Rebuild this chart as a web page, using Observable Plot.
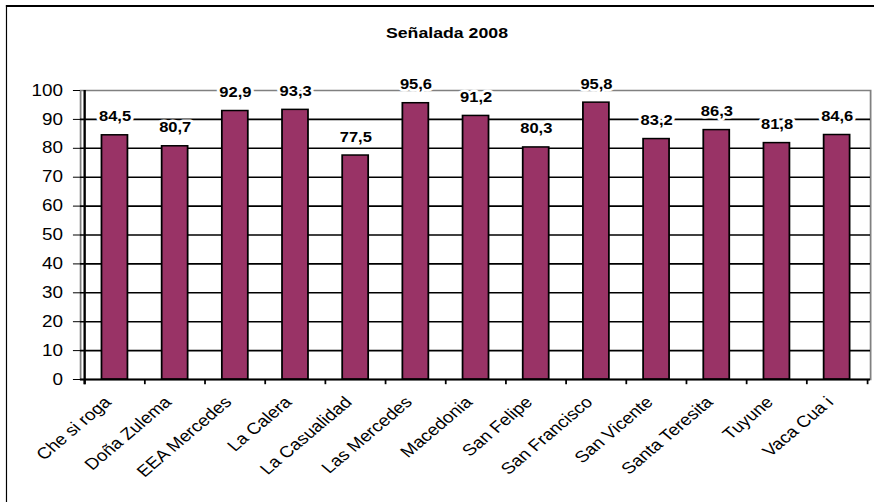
<!DOCTYPE html>
<html><head><meta charset="utf-8">
<script src="https://cdn.jsdelivr.net/npm/d3@7"></script>
<script src="https://cdn.jsdelivr.net/npm/@observablehq/plot@0.6"></script>
<style>
html,body{margin:0;padding:0;background:#fff;overflow:hidden;width:874px;height:502px;}
#stage{position:absolute;left:0;top:0;width:741px;height:502px;transform:scaleX(1.18);transform-origin:0 0;font-family:"Liberation Sans",Arial,sans-serif;}
#border{position:absolute;left:5px;top:5px;width:800px;height:600px;border-top:2px solid #000;border-left:1.7px solid #000;}
#title{position:absolute;left:0;width:757.6px;top:25px;text-align:center;font-weight:bold;font-size:15px;line-height:15px;color:#000;}
#chart{position:absolute;left:0;top:50px;}
</style></head>
<body><div id="stage"><div id="border"></div><div id="title">Señalada 2008</div><div id="chart"></div></div>
<script>
const categories = ["Che si roga", "Doña Zulema", "EEA Mercedes", "La Calera", "La Casualidad", "Las Mercedes", "Macedonia", "San Felipe", "San Francisco", "San Vicente", "Santa Teresita", "Tuyune", "Vaca Cua i"];
const values = [84.5, 80.7, 92.9, 93.3, 77.5, 95.6, 91.2, 80.3, 95.8, 83.2, 86.3, 81.8, 84.6];
const yTicks = [0, 10, 20, 30, 40, 50, 60, 70, 80, 90, 100];

const data = categories.map((name, i) => ({name, value: values[i]}));
const W = 741, H = 452, mL = 67.8, mR = 3.7, mT = 40, mB = 123;
const step = (W - mL - mR) / categories.length;
const fmt = v => v.toFixed(1).replace(".", ",");
const font = '"Liberation Sans", Arial, sans-serif';
const gridTicks = yTicks.filter(t => t > 0 && t < 100);

const plot = Plot.plot({
  width: W, height: H,
  marginLeft: mL, marginRight: mR, marginTop: mT, marginBottom: mB,
  style: {fontFamily: font, fontSize: "16px", color: "#000", background: "transparent", overflow: "visible"},
  x: {domain: categories, paddingInner: 0.57, paddingOuter: 0.285, axis: null},
  y: {domain: [0, 100], axis: null},
  marks: [
    Plot.frame({stroke: "#808080", strokeWidth: 1.5}),
    Plot.gridY({ticks: gridTicks, stroke: "#000", strokeOpacity: 1, strokeWidth: 1.6}),
    Plot.barY(data, {x: "name", y: "value", fill: "#993366", stroke: "#000", strokeWidth: 1.5}),
    Plot.ruleY([0], {stroke: "#000", strokeWidth: 2}),
    Plot.ruleX(categories, {x: d => d, y1: 0, y2: -1.8, dx: -step / 2, stroke: "#000", strokeWidth: 1.5}),
    Plot.ruleX([categories[categories.length - 1]], {x: d => d, y1: 0, y2: -1.8, dx: step / 2, stroke: "#000", strokeWidth: 1.5}),
    Plot.ruleX([categories[0]], {x: d => d, y1: -1.8, y2: 100, dx: -step / 2, stroke: "#000", strokeWidth: 2}),
    Plot.axisY({ticks: yTicks, label: null, tickSize: 6, tickPadding: 9, fontSize: 16}),
    Plot.text(data, {x: "name", y: "value", text: d => fmt(d.value), dy: -14, lineAnchor: "bottom",
      fontWeight: "bold", fontSize: 14, stroke: "white", strokeWidth: 5, fill: "#000"}),
    Plot.text(categories, {x: d => d, y: 0, rotate: -45, textAnchor: "end", lineAnchor: "middle",
      dx: -6, dy: 20, fontSize: 16, fill: "#000"})
  ]
});
document.getElementById("chart").appendChild(plot);
</script>
</body></html>
